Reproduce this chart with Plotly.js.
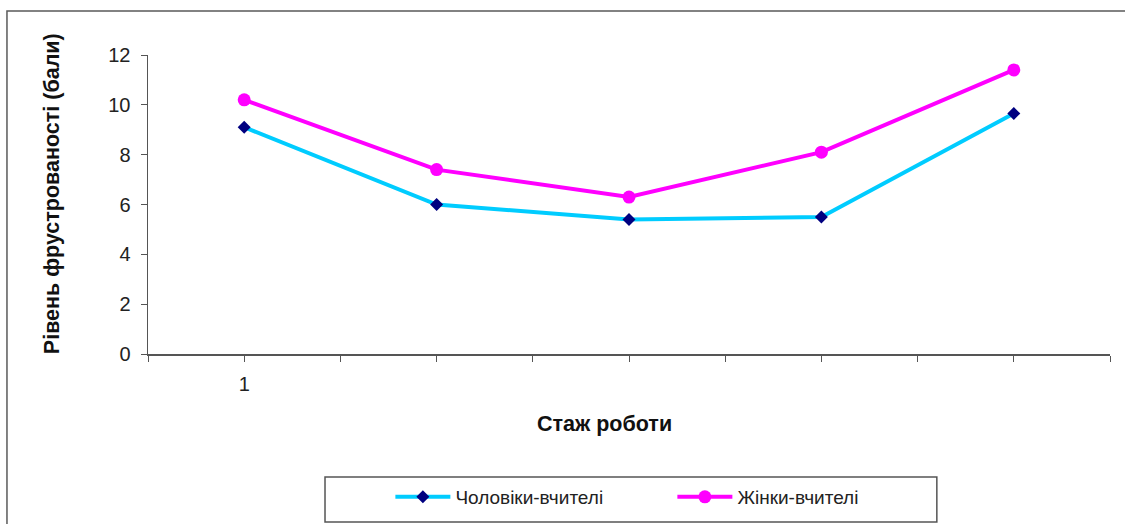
<!DOCTYPE html>
<html>
<head>
<meta charset="utf-8">
<script src="https://cdn.plot.ly/plotly-3.0.1.min.js"></script>
<style>html,body{margin:0;padding:0;background:#fff;}#chart{width:1125px;height:524px;}</style>
</head>
<body>
<div id="chart"></div>
<script>
// Data
const periods = [1, 2, 3, 4, 5];
const menTeachers = [9.1, 6.0, 5.4, 5.5, 9.65];
const womenTeachers = [10.2, 7.4, 6.3, 8.1, 11.4];
const seriesNames = ["Чоловіки-вчителі", "Жінки-вчителі"];
const xTickVals = [0.5, 1, 1.5, 2, 2.5, 3, 3.5, 4, 4.5, 5, 5.5];
const xTickText = ["", "1", "", "", "", "", "", "", "", "", ""];
const yTitle = "Рівень фрустрованості (бали)";
const xTitle = "Стаж роботи";

const FONT = "Arial, 'Liberation Sans', sans-serif";

const traces = [
  {
    x: periods, y: menTeachers, name: seriesNames[0], type: "scatter", mode: "lines+markers",
    line: {color: "#00CCFF", width: 4},
    marker: {symbol: "diamond", color: "#000080", size: 10}
  },
  {
    x: periods, y: womenTeachers, name: seriesNames[1], type: "scatter", mode: "lines+markers",
    line: {color: "#FF00FF", width: 4},
    marker: {symbol: "circle", color: "#FF00FF", size: 13}
  }
];

const layout = {
  width: 1125, height: 524,
  margin: {l: 148, r: 15, t: 55, b: 170, autoexpand: false},
  paper_bgcolor: "#fff", plot_bgcolor: "#fff",
  font: {family: FONT, size: 19, color: "#222"},
  showlegend: true,
  legend: {
    orientation: "h", xref: "container", yref: "container",
    x: 0.347, xanchor: "left", y: 0.0515, yanchor: "middle",
    bgcolor: "rgba(0,0,0,0)", borderwidth: 0,
    itemwidth: 55, entrywidth: 212, entrywidthmode: "pixels",
    font: {family: FONT, size: 19, color: "#222"}
  },
  xaxis: {
    range: [0.5, 5.5], tickmode: "array", tickvals: xTickVals, ticktext: xTickText,
    showgrid: false, zeroline: false, showline: true, linecolor: "#555", linewidth: 1.5,
    ticks: "outside", ticklen: 6, tickcolor: "#555", tickwidth: 1, ticklabelstandoff: 5,
    tickfont: {family: FONT, size: 20, color: "#222"}, fixedrange: true, automargin: false
  },
  yaxis: {
    range: [0, 12], tickvals: [0, 2, 4, 6, 8, 10, 12],
    showgrid: false, zeroline: false, showline: true, linecolor: "#555", linewidth: 1.5,
    ticks: "outside", ticklen: 6, tickcolor: "#555", tickwidth: 1, ticklabelstandoff: 6,
    tickfont: {family: FONT, size: 20, color: "#222"}, fixedrange: true, automargin: false
  },
  annotations: [
    {text: "<b>" + yTitle + "</b>", xref: "paper", yref: "paper", x: -0.0998, y: 0.538,
     xanchor: "center", yanchor: "middle",
     textangle: -90, showarrow: false, font: {family: FONT, size: 21.5, color: "#111"}},
    {text: "<b>" + xTitle + "</b>", xref: "paper", yref: "paper", x: 0.475, y: -0.234,
     xanchor: "center", yanchor: "middle",
     showarrow: false, font: {family: FONT, size: 21.5, color: "#111"}}
  ],
  shapes: [
    {type: "rect", xref: "paper", yref: "paper", x0: -0.1466, x1: 1.06, y0: -0.62, y1: 1.147,
     line: {color: "#5a5a5a", width: 1.5}, fillcolor: "rgba(0,0,0,0)", layer: "below"},
    {type: "rect", xref: "paper", yref: "paper", x0: 0.184, x1: 0.820, y0: -0.562, y1: -0.411,
     line: {color: "#555", width: 1.5}, fillcolor: "rgba(0,0,0,0)", layer: "below"}
  ]
};

Plotly.newPlot("chart", traces, layout, {displayModeBar: false, staticPlot: true});
</script>
</body>
</html>
